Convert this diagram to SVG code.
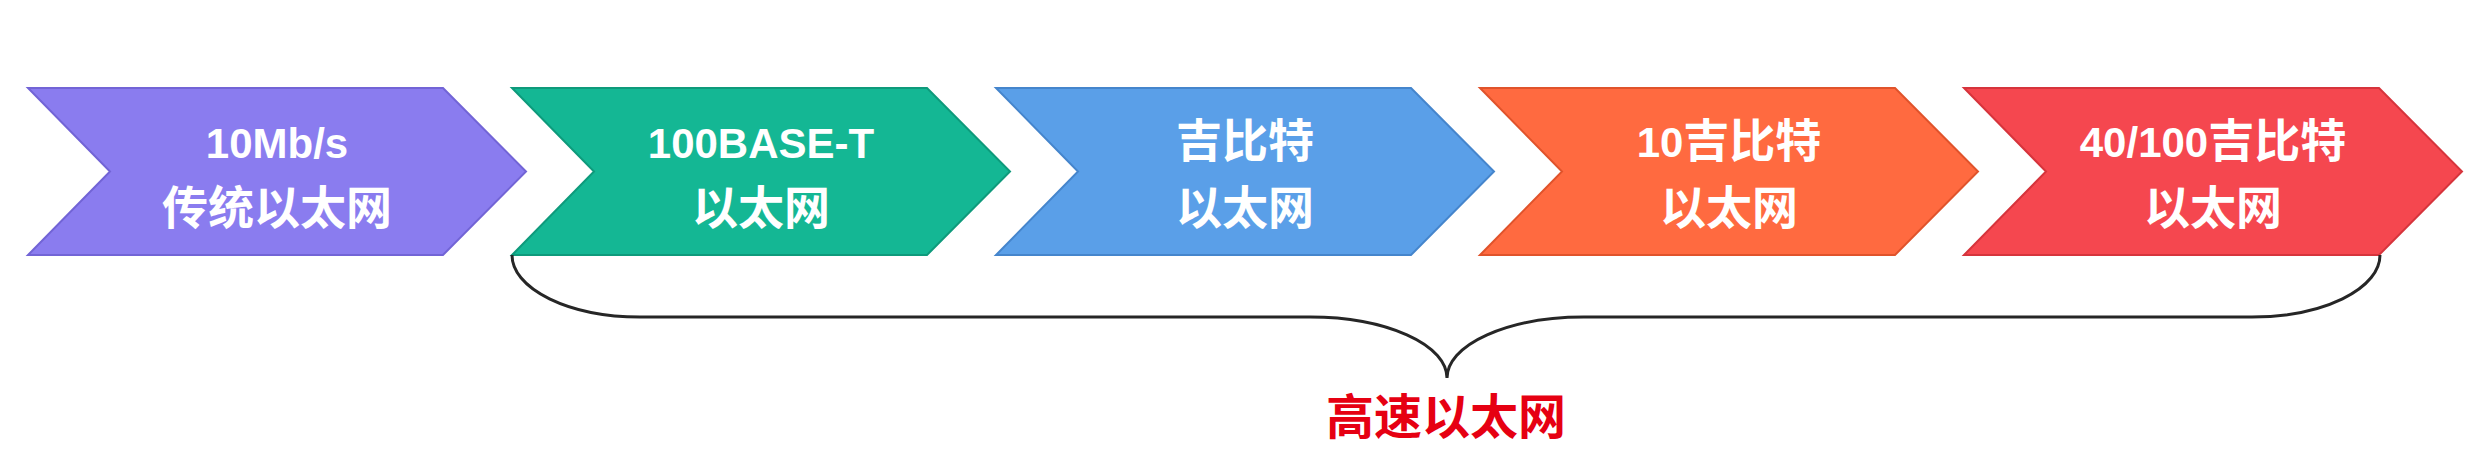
<svg xmlns="http://www.w3.org/2000/svg" width="2474" height="460" viewBox="0 0 2474 460">
  <style>
    .chev { stroke-width: 2; stroke-linejoin: miter; }
    .lbl { font-family: "Liberation Sans", "Noto Sans CJK SC", sans-serif; font-weight: bold; font-size: 42px; fill: #ffffff; text-anchor: middle; }
    .cjk { font-family: "Noto Sans CJK SC", sans-serif; font-size: 46px; font-weight: bold; }
    .brace { fill: none; stroke: #262626; stroke-width: 3; }
    .note { font-family: "Noto Sans CJK SC", sans-serif; font-weight: bold; font-size: 48px; fill: #E60012; text-anchor: middle; }
  </style>
  <rect width="2474" height="460" fill="#ffffff"/>

  <g id="node-10mbps">
    <path class="chev" d="M28,88 H443 L526,171.5 L443,255 H28 L110,171.5 Z" fill="#8A7CEF" stroke="#7264D6"/>
    <text class="lbl"><tspan x="277" y="158">10Mb/s</tspan><tspan class="cjk" x="277" y="224">传统以太网</tspan></text>
  </g>

  <g id="node-100base-t">
    <path class="chev" d="M512,88 H927 L1010,171.5 L927,255 H512 L594,171.5 Z" fill="#14B794" stroke="#0E9A7B"/>
    <text class="lbl"><tspan x="761" y="158">100BASE-T</tspan><tspan class="cjk" x="761" y="224">以太网</tspan></text>
  </g>

  <g id="node-gigabit">
    <path class="chev" d="M996,88 H1411 L1494,171.5 L1411,255 H996 L1078,171.5 Z" fill="#5A9FE8" stroke="#4585CC"/>
    <text class="lbl"><tspan class="cjk" x="1245" y="157">吉比特</tspan><tspan class="cjk" x="1245" y="224">以太网</tspan></text>
  </g>

  <g id="node-10gigabit">
    <path class="chev" d="M1480,88 H1895 L1978,171.5 L1895,255 H1480 L1562,171.5 Z" fill="#FF6A40" stroke="#E0532B"/>
    <text class="lbl"><tspan x="1729" y="157">10<tspan class="cjk">吉比特</tspan></tspan><tspan class="cjk" x="1729" y="224">以太网</tspan></text>
  </g>

  <g id="node-40-100gigabit">
    <path class="chev" d="M1964,88 H2379 L2462,171.5 L2379,255 H1964 L2046,171.5 Z" fill="#F5474F" stroke="#D6343C"/>
    <text class="lbl"><tspan x="2213" y="157">40/100<tspan class="cjk">吉比特</tspan></tspan><tspan class="cjk" x="2213" y="224">以太网</tspan></text>
  </g>

  <g id="connectors">
    <path class="brace" d="M512,255 A128,62 0 0 0 640,317 L1310,317 A137,61 0 0 1 1447,378 A137,61 0 0 1 1584,317 L2252,317 A128,62 0 0 0 2380,255"/>
  </g>

  <g id="label-high-speed">
    <text class="note" x="1446" y="434">高速以太网</text>
  </g>
</svg>
